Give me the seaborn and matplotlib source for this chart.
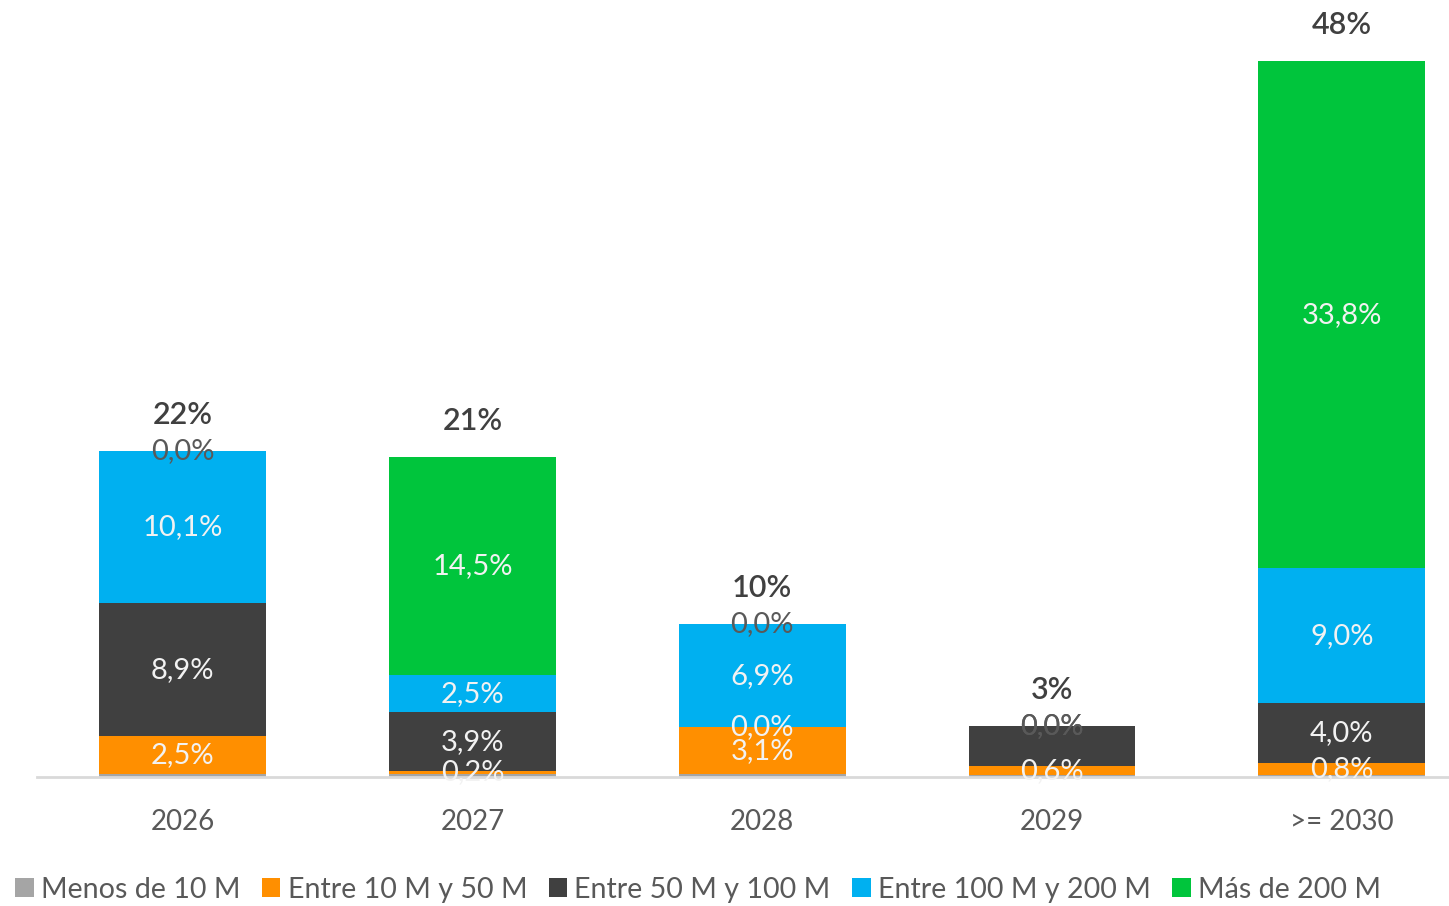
import matplotlib
matplotlib.use("Agg")
import matplotlib.pyplot as plt
from matplotlib.patches import Patch
import numpy as np
import pandas as pd
import seaborn as sns

years = ["2026", "2027", "2028", "2029", ">= 2030"]
series = ["Menos de 10 M", "Entre 10 M y 50 M", "Entre 50 M y 100 M",
          "Entre 100 M y 200 M", "Más de 200 M"]
menos_10 = [0.2, 0.2, 0.2, 0.1, 0.1]
entre_10_50 = [2.5, 0.2, 3.1, 0.6, 0.8]
entre_50_100 = [8.9, 3.9, 0.0, 2.7, 4.0]
entre_100_200 = [10.1, 2.5, 6.9, 0.0, 9.0]
mas_200 = [0.0, 14.5, 0.0, 0.0, 33.8]
totals = ["22%", "21%", "10%", "3%", "48%"]
colors = ["#A5A5A5", "#FF8F00", "#404040", "#00B0F0", "#00C53C"]
# labels not shown in the original
hidden = {("Menos de 10 M", y) for y in years} | {("Entre 50 M y 100 M", "2029")}

values = [menos_10, entre_10_50, entre_50_100, entre_100_200, mas_200]

sns.set_theme(style="white")
plt.rcParams['font.family'] = ['Lato', 'DejaVu Sans']

fig = plt.figure(figsize=(14.49, 9.06), dpi=100)
ax = fig.add_axes([0.0255, 0.1424, 0.9745, 0.8444])

bottom = np.zeros(len(years))
for name, vals, col in zip(series, values, colors):
    df = pd.DataFrame({"year": years, "val": vals})
    sns.barplot(data=df, x="year", y="val", order=years, color=col,
                saturation=1, errorbar=None, width=0.575, bottom=bottom,
                linewidth=0, ax=ax, zorder=2)
    for i, (y, v) in enumerate(zip(years, vals)):
        if (name, y) in hidden:
            continue
        mid = bottom[i] + v / 2
        top_seg = v == 0 and all(values[k][i] == 0 for k in range(series.index(name), len(series)))
        c = "#595959" if top_seg else "#F2F2F2"
        ax.text(i, mid, f"{v:.1f}%".replace(".", ","), ha="center", va="center",
                fontsize=21, color=c, zorder=5)
    bottom = bottom + np.array(vals)

for i, t in enumerate(totals):
    ax.annotate(t, (i, bottom[i]), xytext=(0, 26), textcoords="offset points",
                ha="center", va="center", fontsize=22, fontweight="semibold",
                color="#404040")

ax.set_xlim(-0.503, 4.37)
ax.set_ylim(0, 51)
ax.set_xlabel("")
ax.set_ylabel("")
ax.set_yticks([])
for s in ["top", "left", "right"]:
    ax.spines[s].set_visible(False)
ax.spines["bottom"].set_color("#D9D9D9")
ax.spines["bottom"].set_linewidth(2)
ax.tick_params(axis="x", length=0, pad=23, labelsize=20, labelcolor="#595959")

handles = [Patch(facecolor=c, edgecolor="none") for c in colors]
leg = fig.legend(handles, series, loc="center left", bbox_to_anchor=(0.0104, 0.018),
                 ncol=5, frameon=False, handlelength=0.65, handleheight=0.65,
                 handletextpad=0.25, columnspacing=0.75, borderpad=0,
                 borderaxespad=0, prop={"size": 20.6})
for t in leg.get_texts():
    t.set_color("#595959")

fig.savefig("out.png", dpi=100)
